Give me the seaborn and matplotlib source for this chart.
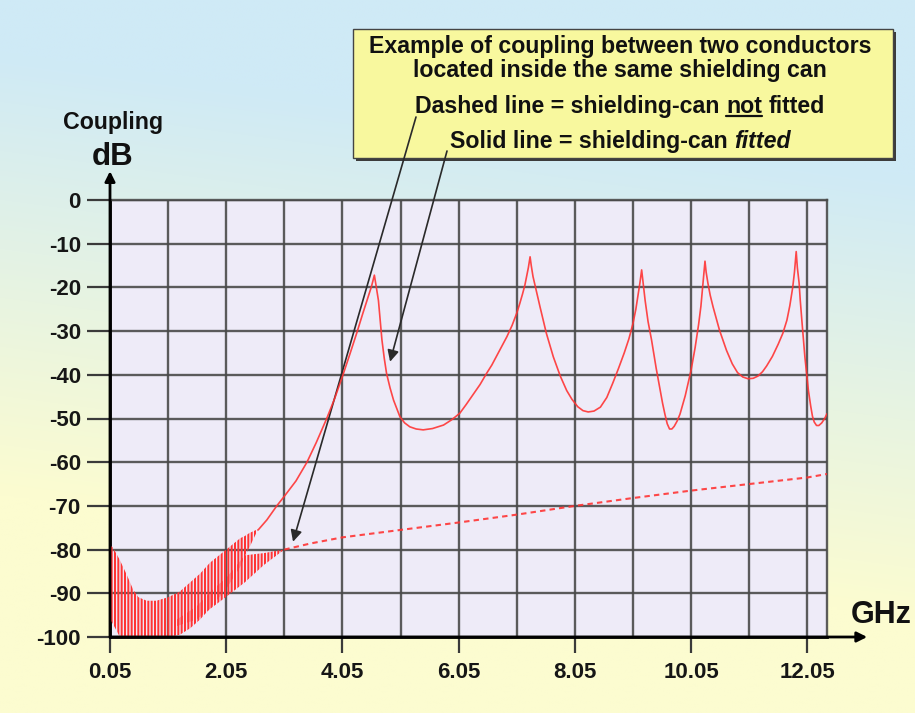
import numpy as np
import matplotlib
matplotlib.use("Agg")
import matplotlib.pyplot as plt
import matplotlib.transforms as mtransforms
from matplotlib.patches import Rectangle
from matplotlib.lines import Line2D
from matplotlib.ticker import FixedLocator
from matplotlib.colors import to_rgb
import seaborn as sns

# ---------------- data: frequency (GHz) vs coupling (dB) ----------------
# solid line: shielding-can fitted
fitted_freq = [2.60, 2.75, 2.92, 3.05, 3.25, 3.44, 3.60, 3.78, 3.92, 4.06,
               4.18, 4.30, 4.40, 4.49, 4.55, 4.60, 4.62, 4.64, 4.67, 4.70,
               4.73, 4.77, 4.81, 4.87, 4.93, 5.04, 5.12, 5.21, 5.32, 5.44,
               5.60, 5.79, 5.93, 6.07, 6.18, 6.30, 6.42, 6.53, 6.62, 6.70,
               6.79, 6.88, 6.97, 7.05, 7.10, 7.15, 7.19, 7.22, 7.25, 7.28,
               7.30, 7.33, 7.39, 7.45, 7.56, 7.68, 7.80, 7.91, 8.00, 8.10,
               8.19, 8.28, 8.38, 8.49, 8.60, 8.70, 8.80, 8.90, 8.98, 9.05,
               9.10, 9.14, 9.17, 9.20, 9.23, 9.26, 9.31, 9.37, 9.45, 9.52,
               9.56, 9.60, 9.64, 9.68, 9.72, 9.76, 9.81, 9.86, 9.95, 10.05,
               10.12, 10.18, 10.22, 10.25, 10.27, 10.29, 10.31, 10.34, 10.38, 10.43,
               10.54, 10.66, 10.76, 10.85, 10.94, 11.03, 11.12, 11.20, 11.28, 11.35,
               11.45, 11.55, 11.63, 11.70, 11.75, 11.80, 11.83, 11.86, 11.88, 11.91,
               11.93, 11.96, 12.01, 12.07, 12.11, 12.14, 12.17, 12.21, 12.25, 12.30,
               12.35, 12.39]
fitted_db = [-75.5, -73.2, -70.0, -67.8, -64.3, -60.0, -55.5, -50.0, -45.3, -40.0,
             -35.2, -30.3, -26.0, -22.3, -19.8, -17.2, -18.8, -20.5, -23.0, -27.5,
             -32.0, -36.2, -39.7, -43.0, -45.8, -49.6, -51.0, -51.9, -52.4, -52.6,
             -52.3, -51.5, -50.3, -48.8, -46.8, -44.5, -42.2, -39.7, -37.8, -35.8,
             -33.6, -31.3, -28.7, -25.9, -23.8, -21.5, -19.5, -17.5, -15.5, -13.0,
             -15.0, -17.5, -21.0, -24.4, -30.5, -35.9, -40.3, -43.6, -45.6, -47.3,
             -48.2, -48.5, -48.3, -47.4, -45.2, -42.0, -38.6, -35.0, -31.8, -28.3,
             -25.0, -21.5, -19.0, -16.0, -19.5, -23.0, -27.8, -32.0, -38.5, -43.6,
             -46.5, -49.0, -51.2, -52.4, -52.4, -51.8, -50.6, -49.0, -44.8, -39.0,
             -33.8, -28.5, -24.3, -20.0, -17.0, -14.0, -16.5, -19.0, -21.8, -24.5,
             -29.8, -34.4, -37.5, -39.5, -40.5, -40.9, -40.8, -40.3, -39.3, -38.0,
             -35.8, -33.0, -30.5, -27.5, -24.2, -20.0, -16.5, -11.8, -15.5, -19.0,
             -23.0, -28.0, -36.0, -43.6, -47.2, -49.5, -50.8, -51.6, -51.6, -51.0,
             -50.0, -48.9]

# dashed line: shielding-can not fitted
notfit_freq = [3.05, 3.50, 4.05, 5.05, 6.05, 7.05, 8.05, 9.05, 10.05, 11.05, 12.05, 12.39]
notfit_db = [-80.0, -78.6, -77.2, -75.5, -73.8, -72.0, -70.0, -68.2, -66.5, -65.0, -63.5, -62.7]

# low-frequency part: the response swings rapidly between these envelopes
fitted_band_freq = [0.05, 0.10, 0.22, 0.34, 0.45, 0.54, 0.68, 0.85, 1.05, 1.25, 1.43, 1.60,
                    1.77, 2.05, 2.29, 2.37, 2.45, 2.60]
fitted_band_top = [-79.0, -79.5, -82.4, -85.8, -89.2, -90.9, -91.7, -91.7, -90.9, -89.6, -87.5, -85.5,
                   -83.0, -80.0, -77.4, -76.9, -76.2, -75.3]
fitted_band_bottom = [-96.0, -97.0, -100.0, -100.0, -100.0, -100.0, -100.0, -100.0, -100.0, -99.5, -98.0, -96.0,
                      -93.5, -89.0, -84.0, -81.5, -79.5, -75.3]

notfit_band_freq = [1.20, 1.54, 1.83, 2.05, 2.37, 2.70, 2.95, 3.05]
notfit_band_top = [-96.0, -93.0, -89.0, -86.5, -81.3, -80.8, -80.2, -80.0]
notfit_band_bottom = [-97.5, -96.0, -93.0, -90.8, -87.5, -83.5, -81.0, -80.0]

x_ticks = [0.05, 2.05, 4.05, 6.05, 8.05, 10.05, 12.05]
x_tick_labels = ["0.05", "2.05", "4.05", "6.05", "8.05", "10.05", "12.05"]
x_grid_extra = [1.05, 3.05, 5.05, 7.05, 9.05, 11.05]
y_ticks = [0, -10, -20, -30, -40, -50, -60, -70, -80, -90, -100]
y_tick_labels = ["0", "-10", "-20", "-30", "-40", "-50", "-60", "-70", "-80", "-90", "-100"]

title_lines = ["Example of coupling between two conductors",
               "located inside the same shielding can"]

# ---------------- styling ----------------
W, H, DPI = 915, 713, 100
RED = "#ff3434"
GRID = "#4a4a4a"
FS = 16
FS_NOTE = 16.7

sns.set_theme(style="white")
plt.rcParams["font.family"] = ["Liberation Sans", "DejaVu Sans"]
plt.rcParams["font.weight"] = "bold"
plt.rcParams["hatch.linewidth"] = 1.45
plt.rcParams["hatch.color"] = RED

fig = plt.figure(figsize=(W / DPI, H / DPI), dpi=DPI)
PX = mtransforms.Affine2D().scale(1 / W, -1 / H).translate(0, 1) + fig.transFigure

# page background: blue at the top fading to pale yellow at the bottom
bg = fig.add_axes([0, 0, 1, 1], zorder=-10)
gu, gv = np.meshgrid(np.linspace(0, 1, 300), np.linspace(1, 0, 300))
mix = np.clip((0.84 - gv) / 0.62 + 0.28 * (0.5 - gu), 0, 1)[..., None]
top_c = np.array(to_rgb("#cfeaf6"))
bot_c = np.array(to_rgb("#fcfcd0"))
bg.imshow(top_c * (1 - mix) + bot_c * mix, extent=[0, 1, 0, 1], aspect="auto",
          interpolation="bilinear")
bg.set_axis_off()

# main plot area
ax = fig.add_axes([110 / W, 1 - 637 / H, 717 / W, 437 / H], zorder=2)
ax.set_facecolor("#eeebf8")
ax.set_xlim(0.05, 12.39)
ax.set_ylim(-100, 0)
ax.set_axisbelow(True)

ax.xaxis.set_major_locator(FixedLocator(x_ticks))
ax.xaxis.set_minor_locator(FixedLocator(x_grid_extra))
ax.set_xticklabels(x_tick_labels)
ax.yaxis.set_major_locator(FixedLocator(y_ticks))
ax.set_yticklabels(y_tick_labels)
ax.grid(which="both", axis="both", color=GRID, lw=1.7, alpha=0.9)

ax.tick_params(axis="y", which="major", left=True, length=16.5, width=1.6, color="#3a3a3a",
               pad=4.5, labelsize=FS, labelcolor="#161616")
ax.tick_params(axis="x", which="major", bottom=True, length=11.5, width=1.6, color="#3a3a3a",
               pad=6.5, labelsize=FS, labelcolor="#161616")
ax.tick_params(axis="x", which="minor", length=0)
for lab in ax.get_xticklabels() + ax.get_yticklabels():
    lab.set_fontweight("bold")

for side in ("left", "bottom"):
    ax.spines[side].set_color("black")
    ax.spines[side].set_linewidth(2.0)
for side in ("top", "right"):
    ax.spines[side].set_color(GRID)
    ax.spines[side].set_linewidth(1.7)
    ax.spines[side].set_alpha(0.9)

# rapidly oscillating low-frequency response, shown as dense vertical strokes
ax.fill_between(fitted_band_freq, fitted_band_bottom, fitted_band_top, facecolor="none",
                edgecolor=RED, hatch="|||||", linewidth=0, zorder=3)
ax.fill_between(notfit_band_freq, notfit_band_bottom, notfit_band_top, facecolor="none",
                edgecolor=RED, hatch="|||||", linewidth=0, zorder=3)

# smooth parts of both curves
sns.lineplot(x=fitted_freq, y=fitted_db, ax=ax, color=RED, lw=1.2, alpha=0.9,
             sort=False, estimator=None, zorder=4)
sns.lineplot(x=notfit_freq, y=notfit_db, ax=ax, color=RED, lw=1.5, alpha=0.9,
             linestyle=(0, (2.6, 2.0)), sort=False, estimator=None, zorder=4)

# axis arrows
arrow_kw = dict(arrowstyle="-|>", color="black", lw=2.0, mutation_scale=15, shrinkA=0, shrinkB=0)
ax.annotate("", xy=(0, 1.066), xytext=(0, 0), xycoords="axes fraction",
            arrowprops=arrow_kw, annotation_clip=False)
ax.annotate("", xy=(1.056, 0), xytext=(0, 0), xycoords="axes fraction",
            arrowprops=arrow_kw, annotation_clip=False)

# axis titles
fig.text(113, 129, "Coupling", transform=PX, ha="center", va="baseline",
         fontsize=FS_NOTE, fontweight="bold", color="#111111")
fig.text(113, 165, "dB", transform=PX, ha="center", va="baseline",
         fontsize=22.5, fontweight="bold", color="#111111")
fig.text(851, 623, "GHz", transform=PX, ha="left", va="baseline",
         fontsize=22, fontweight="bold", color="#111111")

# explanatory note box with drop shadow
fig.add_artist(Rectangle((356, 32), 540, 129, transform=PX, facecolor="#3c3c3c",
                         edgecolor="none", zorder=1))
fig.add_artist(Rectangle((353, 29), 540, 129, transform=PX, facecolor="#f8f89e",
                         edgecolor="#444444", lw=1.0, zorder=1))

renderer = fig.canvas.get_renderer()


def text_width(s, **kw):
    t = fig.text(0, 0, s, fontsize=FS_NOTE, fontweight="bold", **kw)
    w = t.get_window_extent(renderer=renderer).width
    t.remove()
    return w


def advance(prefix, follow):
    return text_width(prefix + follow) - text_width(follow)


CX = 620
for line, base in zip(title_lines, [53, 77]):
    fig.text(CX, base, line, transform=PX, ha="center", va="baseline",
             fontsize=FS_NOTE, fontweight="bold", color="#111111", zorder=5)

# "Dashed line = shielding-can not fitted" with "not" underlined
pre3 = "Dashed line = shielding-can "
total3 = text_width(pre3 + "not fitted")
x0 = CX - total3 / 2
x_not = x0 + advance(pre3, "n")
x_fit = x0 + advance(pre3 + "not ", "f")
w_not = text_width("not")
base3 = 113
for xx, s in [(x0, pre3.rstrip()), (x_not, "not"), (x_fit, "fitted")]:
    fig.text(xx, base3, s, transform=PX, ha="left", va="baseline",
             fontsize=FS_NOTE, fontweight="bold", color="#111111", zorder=5)
fig.add_artist(Line2D([x_not, x_not + w_not], [base3 + 3, base3 + 3], transform=PX,
                      color="#111111", lw=1.6, zorder=5))

# "Solid line = shielding-can fitted" with "fitted" in italics
pre4 = "Solid line = shielding-can "
adv4 = advance(pre4, "f")
total4 = adv4 + text_width("fitted", style="italic")
x0 = CX - total4 / 2
base4 = 148
fig.text(x0, base4, pre4.rstrip(), transform=PX, ha="left", va="baseline",
         fontsize=FS_NOTE, fontweight="bold", color="#111111", zorder=5)
fig.text(x0 + adv4, base4, "fitted", transform=PX, ha="left", va="baseline",
         fontsize=FS_NOTE, fontweight="bold", style="italic", color="#111111", zorder=5)

# leader arrows from the note to each curve
lead_kw = dict(arrowstyle="-|>", color="#2a2a2a", lw=1.2, mutation_scale=17,
               shrinkA=0, shrinkB=0)
ax.annotate("", xy=(3.20, -78.2), xycoords="data", xytext=(416, 117), textcoords=PX,
            arrowprops=lead_kw, annotation_clip=False)
ax.annotate("", xy=(4.87, -37.0), xycoords="data", xytext=(447, 151), textcoords=PX,
            arrowprops=lead_kw, annotation_clip=False)

fig.savefig("out.png", dpi=DPI)
